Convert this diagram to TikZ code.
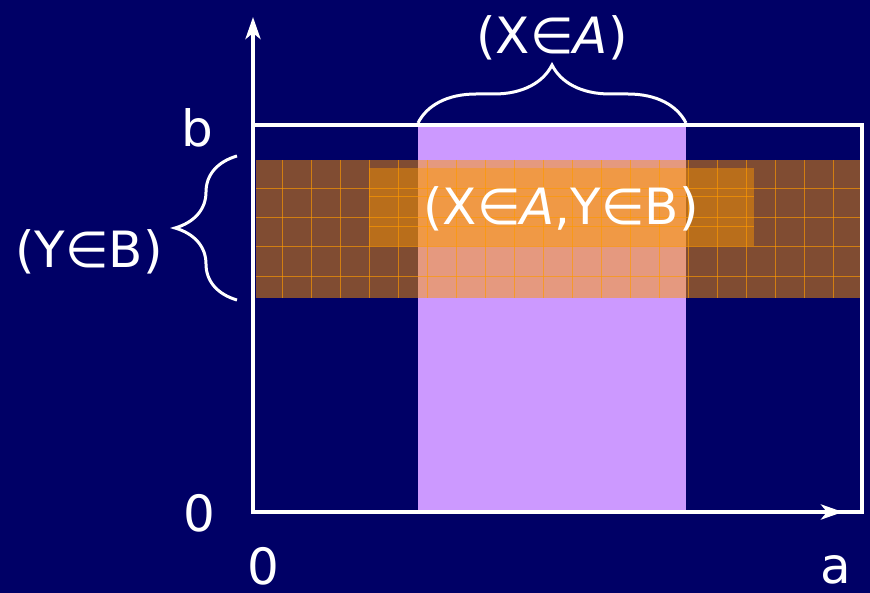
\documentclass[tikz,border=0pt]{standalone}
\usepackage{fontspec}
\setmainfont{DejaVu Sans}
\usetikzlibrary{arrows.meta,decorations.pathreplacing}
\definecolor{navy}{HTML}{000066}
\definecolor{lilac}{HTML}{CC99FF}
\definecolor{orng}{HTML}{FF9900}
\tikzset{
  lbl/.style={text=white,inner sep=0pt,font=\fontsize{50}{50}\selectfont},
  axis/.style={white,line width=4.5pt,-{Stealth[length=22pt,width=15pt,inset=6pt]}},
  frame/.style={white,line width=4.5pt},
  brc/.style={white,line width=3pt,decorate,decoration={brace,amplitude=#1}},
  gridl/.style={orng,line width=1pt,opacity=0.65}
}
\begin{document}
\begin{tikzpicture}[x=1pt,y=-1pt]
\fill[navy] (0,0) rectangle (870,593);
\useasboundingbox (0,0) rectangle (870,593);
% regions
\fill[lilac] (418,125) rectangle (686,512);
\fill[orng,opacity=0.5] (256,160) rectangle (862,298);
\foreach \x in {282,311,340,369,398,427,456,485,514,543,572,601,630,659,688,717,746,775,804,833}
  \draw[gridl] (\x,160) -- (\x,298);
\foreach \y in {189,218,247,277}
  \draw[gridl] (256,\y) -- (862,\y);
\fill[orng,opacity=0.45] (369,168) rectangle (754,246);
\foreach \y in {197,227}
  \draw[gridl] (369,\y) -- (754,\y);
% frame and axes
\coordinate (o) at (253,512);
\coordinate (ytip) at (253,17);
\coordinate (xtip) at (843,512);
\draw[frame] (253,125) rectangle (862,512);
\draw[axis] (o) -- (ytip);
\draw[axis] (o) -- (xtip);
% braces
\coordinate (ba) at (418,123);
\coordinate (bb) at (686,123);
\draw[brc=58pt] (ba) -- (bb);
\coordinate (la) at (237,300);
\coordinate (lb) at (237,156);
\draw[brc=62pt] (la) -- (lb);
% labels
\node[lbl] (xa) at (552,38) {(X∈\textit{A})};
\node[lbl] (yb) at (89,252) {(Y∈B)};
\node[lbl] (xayb) at (561,209) {(X∈\textit{A},Y∈B)};
\node[lbl] (b) at (197,128) {b};
\node[lbl] (z1) at (199,513) {0};
\node[lbl] (z2) at (263,566) {0};
\node[lbl] (a) at (836,570) {a};
\end{tikzpicture}
\end{document}
